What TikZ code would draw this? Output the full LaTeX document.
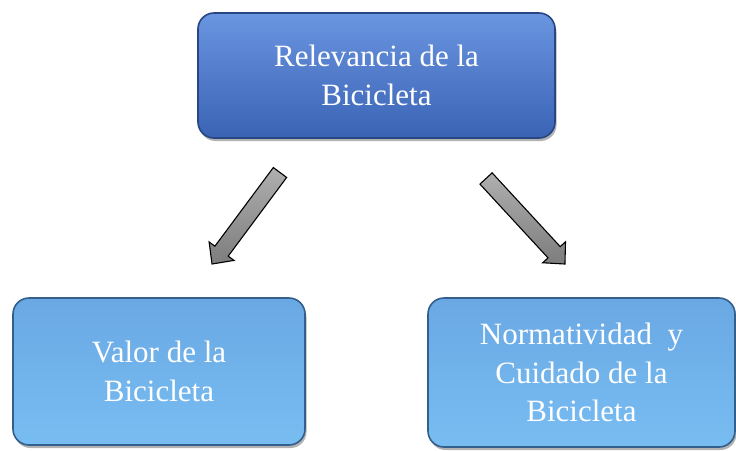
\documentclass[tikz,border=0pt]{standalone}
\usepackage{fontspec}
\setmainfont{Liberation Serif}
\usetikzlibrary{shadows}
\definecolor{topA}{RGB}{106,149,224}
\definecolor{midA}{RGB}{74,120,204}
\definecolor{botA}{RGB}{58,99,181}
\definecolor{edgeA}{RGB}{40,70,130}
\definecolor{topB}{RGB}{106,168,228}
\definecolor{midB}{RGB}{92,158,224}
\definecolor{botB}{RGB}{120,189,242}
\definecolor{edgeB}{RGB}{50,95,140}
\definecolor{arrA}{RGB}{175,175,175}
\definecolor{arrB}{RGB}{125,125,125}
\tikzset{
  boxbase/.style={rounded corners=16pt, inner sep=0pt, align=center, text=white,
    font=\fontsize{31}{38.5}\selectfont, line width=1.6pt,
    drop shadow={shadow xshift=1.5pt, shadow yshift=-3pt, opacity=0.3, fill=black}},
  topbox/.style={boxbase, draw=edgeA, top color=topA, middle color=midA, bottom color=botA},
  lowbox/.style={boxbase, draw=edgeB, top color=topB, middle color=midB, bottom color=botB},
  blockarrow/.style={draw=black, line width=1.1pt, line join=miter, top color=arrA, bottom color=arrB}
}
\newcommand{\blkarrow}[3]{% mid, angle, length
  \begin{scope}[shift={#1}, rotate=#2]
    \path[blockarrow] (-#3/2, 8.3) -- (#3/2-16, 8.3) -- (#3/2-16, 15.5) -- (#3/2, 0)
      -- (#3/2-16, -15.5) -- (#3/2-16, -8.3) -- (-#3/2, -8.3) -- cycle;
  \end{scope}}
\begin{document}
\begin{tikzpicture}[x=1pt, y=-1pt]
\useasboundingbox (0,0) rectangle (736,450);
\node[topbox, minimum width=357pt, minimum height=125pt] (rel) at (376.5,75.5)
  {Relevancia de la\\Bicicleta};
\node[lowbox, minimum width=292pt, minimum height=147pt] (val) at (159,371.5)
  {Valor de la\\Bicicleta};
\node[lowbox, minimum width=307pt, minimum height=149pt] (nor) at (581.5,372.5)
  {Normatividad\ \ y\\Cuidado de la\\Bicicleta};
\blkarrow{(246,218.25)}{233.4}{114}
\blkarrow{(525.5,221.25)}{-47.3}{116.4}
\end{tikzpicture}
\end{document}
